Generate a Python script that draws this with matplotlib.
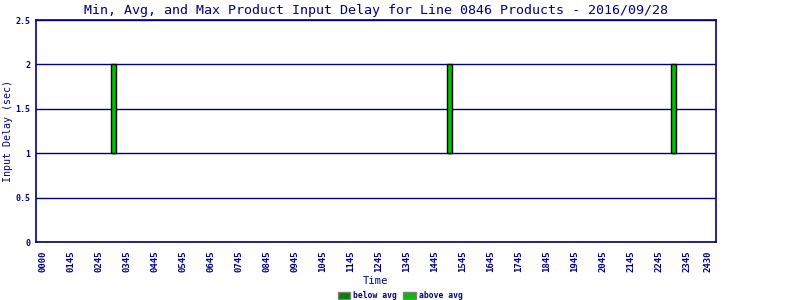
import matplotlib
matplotlib.use("Agg")
import matplotlib.pyplot as plt
from matplotlib.patches import Patch

# Data (hours of day for each bin, delays in seconds)
bin_hours = [3.27, 15.27, 23.27]
min_delay = [1, 1, 1]
avg_delay = [1, 1, 1]
max_delay = [2, 2, 2]

tick_pos = [0.75] + [h + 0.75 for h in range(1, 24)] + [24.5]
tick_labels = ["0000"] + ["%02d45" % h for h in range(1, 24)] + ["2430"]

navy = "#000080"
below_col = "#008000"
above_col = "#00c000"
mono = "DejaVu Sans Mono"

fig = plt.figure(figsize=(8, 3), dpi=100)
ax = fig.add_axes([0.045, 0.1933, 0.85, 0.74])

below_h = [a - m for a, m in zip(avg_delay, min_delay)]
above_h = [x - a for x, a in zip(max_delay, avg_delay)]
ax.bar(bin_hours, below_h, bottom=min_delay, width=0.17, color=below_col,
       edgecolor="black", linewidth=1, zorder=3)
ax.bar(bin_hours, above_h, bottom=avg_delay, width=0.17, color=above_col,
       edgecolor="black", linewidth=1, zorder=3)

ax.set_xlim(0.5, 24.79)
ax.set_ylim(0, 2.5)
ax.set_yticks([0, 0.5, 1, 1.5, 2, 2.5])
ax.set_yticklabels(["0", "0.5", "1", "1.5", "2", "2.5"])
ax.set_xticks(tick_pos)
ax.set_xticklabels(tick_labels, rotation=90)
ax.tick_params(axis="y", length=0, colors=navy, labelsize=6, pad=4)
ax.tick_params(axis="x", length=0, colors=navy, labelsize=6.5, pad=6)
for lab in ax.get_xticklabels() + ax.get_yticklabels():
    lab.set_family(mono)
    lab.set_fontweight("bold")

ax.yaxis.grid(True, color=navy, linewidth=1, zorder=1)
ax.set_axisbelow(True)
for s in ax.spines.values():
    s.set_color(navy)
    s.set_linewidth(1.2)

ax.set_title("Min, Avg, and Max Product Input Delay for Line 0846 Products - 2016/09/28",
             family=mono, fontsize=9.6, color=navy, pad=4)
ax.set_ylabel("Input Delay (sec)", family=mono, fontsize=7.2, color=navy, va="center")
ax.yaxis.set_label_coords(-0.041, 0.5)
ax.set_xlabel("Time", family=mono, fontsize=7.6, color=navy)
ax.xaxis.set_label_coords(0.5, -0.155)

handles = [Patch(facecolor=below_col, edgecolor="gray", label="below avg"),
           Patch(facecolor=above_col, edgecolor="gray", label="above avg")]
leg = fig.legend(handles=handles, loc="lower center", bbox_to_anchor=(0.5, -0.025),
                 ncol=2, frameon=False, handlelength=1.6, handleheight=1.0,
                 handletextpad=0.3, columnspacing=0.8,
                 prop={"family": mono, "size": 5.8, "weight": "bold"})
for t in leg.get_texts():
    t.set_color(navy)

fig.savefig("out.png", dpi=100)
